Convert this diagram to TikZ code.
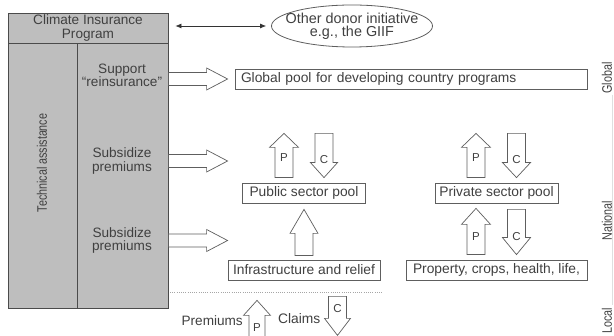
\documentclass[tikz,border=0pt]{standalone}
\usepackage{fontspec}
\setmainfont{Liberation Sans}
\usetikzlibrary{calc,shapes.geometric,arrows.meta}
\definecolor{txt}{HTML}{404040}
\definecolor{ln}{HTML}{5E5E5E}
\definecolor{blk}{HTML}{BEBEBE}
\newcommand{\mainfs}{\fontsize{13.8}{13.5}\selectfont}
\newcommand{\leftfs}{\fontsize{13.6}{13.2}\selectfont}
\newcommand{\donorfs}{\fontsize{14.4}{13.2}\selectfont}
\newcommand{\pcfs}{\fontsize{11.5}{12}\selectfont}
\newcommand{\vtext}[1]{\rotatebox{90}{\scalebox{0.78}[1]{#1}}}
% block arrow: start, end, body half width, head half width, head length
\newcommand{\blockarr}[5]{%
  \coordinate (hb) at ($(#2)!#5!(#1)$);
  \draw[blockarrow] ($(#1)!#3!90:(#2)$) -- ($(hb)!#3!90:(#2)$) -- ($(hb)!#4!90:(#2)$) -- (#2)
    -- ($(hb)!#4!-90:(#2)$) -- ($(hb)!#3!-90:(#2)$) -- ($(#1)!#3!-90:(#2)$) -- cycle;}
\tikzset{
  grayblk/.style={draw=ln!80!black, fill=blk, line width=0.8pt, inner sep=0pt, text=txt},
  box/.style={draw=ln, fill=white, line width=0.8pt, minimum height=20pt, inner sep=0pt, font=\mainfs, text=txt},
  lbl/.style={font=\mainfs, align=center, inner sep=0pt, text=txt},
  pc/.style={font=\pcfs, inner sep=0pt, text=txt},
  blockarrow/.style={draw=ln, fill=white, line width=0.7pt, line join=miter},
  dblarrow/.style={{Latex[length=6pt,width=5pt]}-{Latex[length=6pt,width=5pt]}, line width=0.7pt, draw=black!80},
}
\begin{document}
\begin{tikzpicture}[x=1pt,y=-1pt]
\useasboundingbox (0,0) rectangle (614,336);
% left program block
\node[grayblk, minimum width=160pt, minimum height=30pt, align=center, font=\leftfs] (prog) at (88,28) {Climate Insurance\\Program};
\node[grayblk, minimum width=69pt, minimum height=265pt] (ta) at (42.5,175.5) {};
\node[grayblk, minimum width=91pt, minimum height=265pt] (sub) at (122.5,175.5) {};
\node[lbl, font=\leftfs] (sup) at (122,75) {Support\\“reinsurance”};
\node[lbl, font=\leftfs] (sp1) at (122,161) {Subsidize\\premiums};
\node[lbl, font=\leftfs] (sp2) at (122,240.5) {Subsidize\\premiums};
\node[lbl] (tech) at (42,163) {\vtext{Technical assistance}};
% donor ellipse
\node[ellipse, draw=ln, line width=0.8pt, minimum width=161pt, minimum height=42pt, inner sep=0pt] (donor) at (352,26) {};
\node[lbl, font=\donorfs] (donortxt) at (donor.center) {Other donor initiative\\e.g., the GIIF};
\coordinate (dl) at ([xshift=7pt]prog.east);
\coordinate (dr) at ([xshift=-5pt]donor.west);
\draw[dblarrow] (dl |- dr) -- (dr);
% boxes
\node[box, minimum width=352pt, text width=340pt, align=left] (global) at (411,79) {Global pool for developing country programs};
\node[box, minimum width=123pt] (public) at (304,193) {Public sector pool};
\node[box, minimum width=123pt] (private) at (496.5,193) {Private sector pool};
\node[box, minimum width=152pt] (infra) at (304,270) {Infrastructure and relief};
\node[box, minimum width=181pt] (prop) at (496.5,270) {Property, crops, health, life,};
% horizontal block arrows from the program
\coordinate (h1s) at (sub.east |- global.west);
\coordinate (h1e) at ([xshift=-7pt]global.west);
\coordinate (h2s) at (sub.east |- sp1);
\coordinate (h2e) at (h1e |- h2s);
\coordinate (h3s) at (sub.east |- sp2);
\coordinate (h3e) at (h1e |- h3s);
\blockarr{h1s}{h1e}{6.5pt}{11pt}{21pt}
\blockarr{h2s}{h2e}{6.5pt}{11pt}{21pt}
\blockarr{h3s}{h3e}{6.5pt}{11pt}{21pt}
% P / C arrows above the pools
\coordinate (ptop) at ([yshift=-44pt]global.south);
\coordinate (p1s) at ([xshift=-20pt,yshift=5pt]public.north);
\coordinate (p1e) at (p1s |- ptop);
\coordinate (c1s0) at ([xshift=20pt,yshift=5pt]public.north);
\coordinate (c1s) at (c1s0 |- ptop);
\coordinate (p2s) at ([xshift=-20.5pt,yshift=5pt]private.north);
\coordinate (p2e) at (p2s |- ptop);
\coordinate (c2e) at ([xshift=20pt,yshift=5pt]private.north);
\coordinate (c2s) at (c2e |- ptop);
\blockarr{p1s}{p1e}{9pt}{14.5pt}{14pt}
\blockarr{c1s}{c1s0}{9pt}{13.5pt}{15pt}
\blockarr{p2s}{p2e}{9pt}{14.5pt}{14pt}
\blockarr{c2s}{c2e}{9pt}{14pt}{15pt}
\node[pc] (lp1) at ($(p1s)!0.45!(p1e)$) {P};
\node[pc] (lc1) at ($(c1s)!0.6!(c1s0)$) {C};
\node[pc] (lp2) at ($(p2s)!0.45!(p2e)$) {P};
\node[pc] (lc2) at ($(c2s)!0.6!(c2e)$) {C};
% infra -> public
\coordinate (us) at ([yshift=4pt]infra.north);
\coordinate (ue) at ([yshift=-6pt]public.south);
\blockarr{us}{ue}{9pt}{14pt}{24pt}
% below private pool
\coordinate (p3s) at ([xshift=-20.5pt,yshift=5pt]prop.north);
\coordinate (p3e) at ([xshift=-20.5pt,yshift=-5pt]private.south);
\coordinate (c3s) at ([xshift=20pt,yshift=-6pt]private.south);
\coordinate (c3e) at ([xshift=20pt,yshift=5pt]prop.north);
\blockarr{p3s}{p3e}{9pt}{14.5pt}{16pt}
\blockarr{c3s}{c3e}{9pt}{14pt}{17pt}
\node[pc] (lp3) at ($(p3s)!0.4!(p3e)$) {P};
\node[pc] (lc3) at ($(c3s)!0.6!(c3e)$) {C};
% local level
\draw[gray!70, line width=0.6pt, dash pattern=on 1pt off 1.2pt] (170,292) -- (383,292);
\coordinate (p4s) at ([xshift=-47pt,yshift=-65pt]infra.south);
\coordinate (p4e) at ([xshift=-47pt,yshift=-20pt]infra.south);
\coordinate (c4s) at ([xshift=33.5pt,yshift=-16pt]infra.south);
\coordinate (c4e) at ([xshift=33.5pt,yshift=-55pt]infra.south);
\blockarr{p4s}{p4e}{8pt}{13.5pt}{15pt}
\blockarr{c4s}{c4e}{9pt}{13pt}{17pt}
\node[pc] (lp4) at ($(p4s)!0.4!(p4e)$) {P};
\node[pc] (lc4) at ($(c4s)!0.3!(c4e)$) {C};
\node[lbl, font=\leftfs, anchor=east] (prem) at (243,321) {Premiums};
\node[lbl, anchor=west] (claims) at (278,319) {Claims};
% level labels
\draw[gray!25, line width=0.4pt] (612,95) -- (612,305);
\node[lbl] (lglobal) at (607,78) {\vtext{Global}};
\node[lbl] (lnational) at (607,221) {\vtext{National}};
\node[lbl] (llocal) at (607,321) {\vtext{Local}};
\end{tikzpicture}
\end{document}
